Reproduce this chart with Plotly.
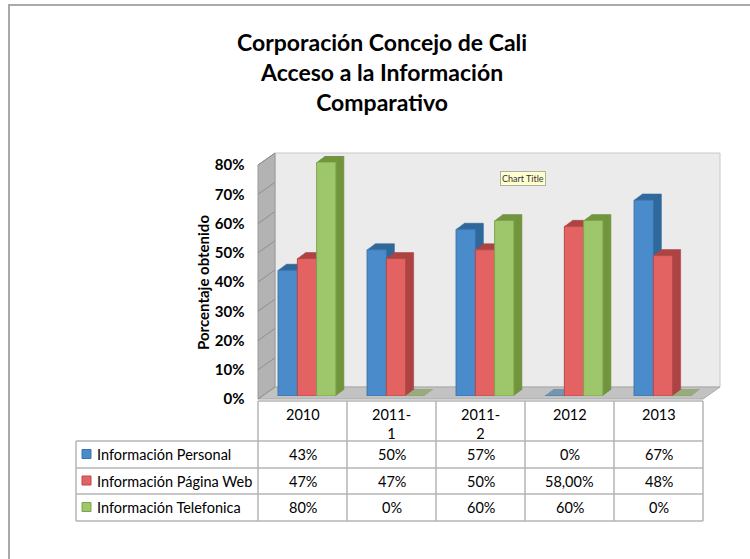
import plotly.graph_objects as go

# ---------------- data ----------------
categories = ["2010", "2011-1", "2011-2", "2012", "2013"]
header_labels = ["2010", "2011-<br>1", "2011-<br>2", "2012", "2013"]
series_names = ["Información Personal", "Información Página Web", "Información Telefonica"]
personal = [0.43, 0.50, 0.57, 0.00, 0.67]
web = [0.47, 0.47, 0.50, 0.58, 0.48]
telefonica = [0.80, 0.00, 0.60, 0.60, 0.00]
personal_labels = ["43%", "50%", "57%", "0%", "67%"]
web_labels = ["47%", "47%", "50%", "58,00%", "48%"]
telefonica_labels = ["80%", "0%", "60%", "60%", "0%"]
y_ticks = [0, 0.1, 0.2, 0.3, 0.4, 0.5, 0.6, 0.7, 0.8]
y_tick_text = ["0%", "10%", "20%", "30%", "40%", "50%", "60%", "70%", "80%"]

series = [personal, web, telefonica]
series_labels = [personal_labels, web_labels, telefonica_labels]
front_colors = ["#4a8ccb", "#e36363", "#9ec66a"]
side_colors = ["#30699c", "#ad4444", "#72953f"]
edge_colors = ["#3a73a8", "#b84a4a", "#7ea34e"]

W, H = 750, 559
FONT = "Lato"


def px(x):
    return x / W


def py(y):
    return 1 - y / H


# geometry (pixels)
FX0, FX1 = 258, 703      # front plane x
FY0, FY1 = 399, 165      # front plane y (0% , 80%)
DX, DY = 17, 12          # wall depth
BDX, BDY = 8, 6          # bar depth
BOX, BOY = (DX - BDX) / 2, (DY - BDY) / 2   # bars sit in middle of the floor depth
NLAYERS = 6              # depth layers used to draw bar side/top faces
YMAX = 0.8

fig = go.Figure()
hidden = dict(showgrid=False, zeroline=False, showticklabels=False, showline=False, ticks="")
axes = {}

# back wall axes (gridlines only)
axes["xaxis"] = dict(domain=[px(FX0 + DX), px(FX1 + DX)], type="category",
                     categoryarray=categories, range=[-0.5, 4.5], **hidden)
axes["yaxis"] = dict(domain=[py(FY0 - DY), py(FY1 - DY)], range=[0, YMAX], tickvals=y_ticks,
                     showgrid=True, gridcolor="#9a9a9a", gridwidth=1.5,
                     zeroline=False, showticklabels=False, showline=False, ticks="", anchor="x")

# depth layers (side / top faces of bars)
for k in range(NLAYERS, 0, -1):
    n = NLAYERS - k + 2          # axis ids 2..NLAYERS+1, deepest first
    ox = BOX + BDX * k / NLAYERS
    oy = BOY + BDY * k / NLAYERS
    axes[f"xaxis{n}"] = dict(domain=[px(FX0 + ox), px(FX1 + ox)], type="category",
                             categoryarray=categories, range=[-0.5, 4.5], anchor=f"y{n}", **hidden)
    axes[f"yaxis{n}"] = dict(domain=[py(FY0 - oy), py(FY1 - oy)], range=[0, YMAX],
                             anchor=f"x{n}", **hidden)
    for i, (name, vals) in enumerate(zip(series_names, series)):
        fig.add_trace(go.Bar(
            x=categories, y=vals, name=name, showlegend=False,
            marker=dict(color=side_colors[i], line=dict(color=side_colors[i], width=0.6)),
            xaxis=f"x{n}", yaxis=f"y{n}", hoverinfo="skip"))

# front faces of bars (+ value axis tick labels, shifted back onto the front plane)
nf = NLAYERS + 2
axes[f"xaxis{nf}"] = dict(domain=[px(FX0 + BOX), px(FX1 + BOX)], type="category",
                          categoryarray=categories, range=[-0.5, 4.5], anchor=f"y{nf}", **hidden)
axes[f"yaxis{nf}"] = dict(domain=[py(FY0 - BOY), py(FY1 - BOY)], range=[0, YMAX],
                          anchor=f"x{nf}",
                          tickvals=y_ticks, ticktext=["<b>%s</b>" % t for t in y_tick_text],
                          showgrid=False, zeroline=False, showline=False, ticks="outside",
                          ticklen=14, tickcolor="rgba(0,0,0,0)", ticklabelshift=int(BOY),
                          tickfont=dict(family=FONT, size=15, color="black"))
for i, (name, vals) in enumerate(zip(series_names, series)):
    fig.add_trace(go.Bar(
        x=categories, y=vals, name=name, showlegend=False,
        marker=dict(color=front_colors[i], line=dict(color=edge_colors[i], width=1)),
        xaxis=f"x{nf}", yaxis=f"y{nf}"))

fig.update_layout(
    width=W, height=H,
    margin=dict(l=0, r=0, t=0, b=0, pad=0, autoexpand=False),
    paper_bgcolor="white", plot_bgcolor="rgba(0,0,0,0)",
    barmode="group", bargap=0.35, bargroupgap=0,
    showlegend=False, **axes,
)

shapes = []
# back wall
shapes.append(dict(type="rect", xref="paper", yref="paper", layer="below",
                   x0=px(FX0 + DX), x1=px(FX1 + DX), y0=py(FY0 - DY), y1=py(FY1 - DY),
                   fillcolor="#ebebeb", line=dict(color="#c8c8c8", width=1)))
# left wall
shapes.append(dict(type="path", xref="paper", yref="paper", layer="below",
                   path=f"M {px(FX0)} {py(FY0)} L {px(FX0)} {py(FY1)} L {px(FX0+DX)} {py(FY1-DY)} L {px(FX0+DX)} {py(FY0-DY)} Z",
                   fillcolor="#b3b3b3", line=dict(color="#9a9a9a", width=1)))
# floor
shapes.append(dict(type="path", xref="paper", yref="paper", layer="below",
                   path=f"M {px(FX0)} {py(FY0)} L {px(FX1)} {py(FY0)} L {px(FX1+DX)} {py(FY0-DY)} L {px(FX0+DX)} {py(FY0-DY)} Z",
                   fillcolor="#c2c2c2", line=dict(color="#a8a8a8", width=1)))
# slanted grid lines on left wall
for v in y_ticks:
    yf = FY0 - (FY0 - FY1) * v / YMAX
    shapes.append(dict(type="line", xref="paper", yref="paper", layer="below",
                       x0=px(FX0), y0=py(yf), x1=px(FX0 + DX), y1=py(yf - DY),
                       line=dict(color="#8f8f8f", width=1)))

# page border
shapes.append(dict(type="line", xref="paper", yref="paper", x0=px(8), x1=1, y0=py(5), y1=py(5),
                   line=dict(color="#a9a9a9", width=2)))
shapes.append(dict(type="line", xref="paper", yref="paper", x0=px(9), x1=px(9), y0=py(5), y1=0,
                   line=dict(color="#a9a9a9", width=2)))

# data table
TC = "#b5b5b5"
col_w = (FX1 - FX0) / len(categories)
col_x = [FX0 + i * col_w for i in range(len(categories) + 1)]
row_y = [401, 441, 468, 494, 521]
LX = 76
TFS = 14.5
shapes.append(dict(type="line", xref="paper", yref="paper", x0=px(FX0), x1=px(FX1),
                   y0=py(row_y[0]), y1=py(row_y[0]), line=dict(color=TC, width=1.5)))
for yy in row_y[1:]:
    shapes.append(dict(type="line", xref="paper", yref="paper", x0=px(LX), x1=px(FX1),
                       y0=py(yy), y1=py(yy), line=dict(color=TC, width=1.5)))
for xx in col_x:
    shapes.append(dict(type="line", xref="paper", yref="paper", x0=px(xx), x1=px(xx),
                       y0=py(row_y[0]), y1=py(row_y[-1]), line=dict(color=TC, width=1.5)))
shapes.append(dict(type="line", xref="paper", yref="paper", x0=px(LX), x1=px(LX),
                   y0=py(row_y[1]), y1=py(row_y[-1]), line=dict(color=TC, width=1.5)))

annotations = []
for i, lab in enumerate(header_labels):
    cx = (col_x[i] + col_x[i + 1]) / 2
    annotations.append(dict(x=px(cx), y=py(404), xref="paper", yref="paper", text=lab,
                            showarrow=False, xanchor="center", yanchor="top",
                            font=dict(family=FONT, size=TFS, color="black")))
for r, (name, labs) in enumerate(zip(series_names, series_labels)):
    cy = (row_y[r + 1] + row_y[r + 2]) / 2
    shapes.append(dict(type="rect", xref="paper", yref="paper",
                       x0=px(82), x1=px(91), y0=py(cy - 5), y1=py(cy + 4),
                       fillcolor=front_colors[r], line=dict(color=edge_colors[r], width=1)))
    annotations.append(dict(x=px(95), y=py(cy), xref="paper", yref="paper", text=name,
                            showarrow=False, xanchor="left", yanchor="middle",
                            font=dict(family=FONT, size=TFS, color="black")))
    for i, lab in enumerate(labs):
        cx = (col_x[i] + col_x[i + 1]) / 2
        annotations.append(dict(x=px(cx), y=py(cy), xref="paper", yref="paper", text=lab,
                                showarrow=False, xanchor="center", yanchor="middle",
                                font=dict(family=FONT, size=TFS, color="black")))

annotations.append(dict(x=px(382), y=py(72), xref="paper", yref="paper",
                        text="<b>Corporación Concejo de Cali<br>Acceso a la Información<br>Comparativo</b>",
                        showarrow=False, xanchor="center", yanchor="middle",
                        font=dict(family=FONT, size=23, color="black")))
annotations.append(dict(x=px(203), y=py(283), xref="paper", yref="paper",
                        text="<b>Porcentaje obtenido</b>", textangle=-90,
                        showarrow=False, xanchor="center", yanchor="middle",
                        font=dict(family=FONT, size=15, color="black")))
annotations.append(dict(x=px(523), y=py(178), xref="paper", yref="paper", text="Chart Title",
                        showarrow=False, xanchor="center", yanchor="middle",
                        bgcolor="#ffffd0", bordercolor="#b0b0a0", borderwidth=1, borderpad=1,
                        font=dict(family=FONT, size=9, color="#333333")))

fig.update_layout(shapes=shapes, annotations=annotations)

fig.write_html("out.html", config={"displayModeBar": False},
               post_script="document.body.style.margin='0';document.body.style.overflow='hidden';")
